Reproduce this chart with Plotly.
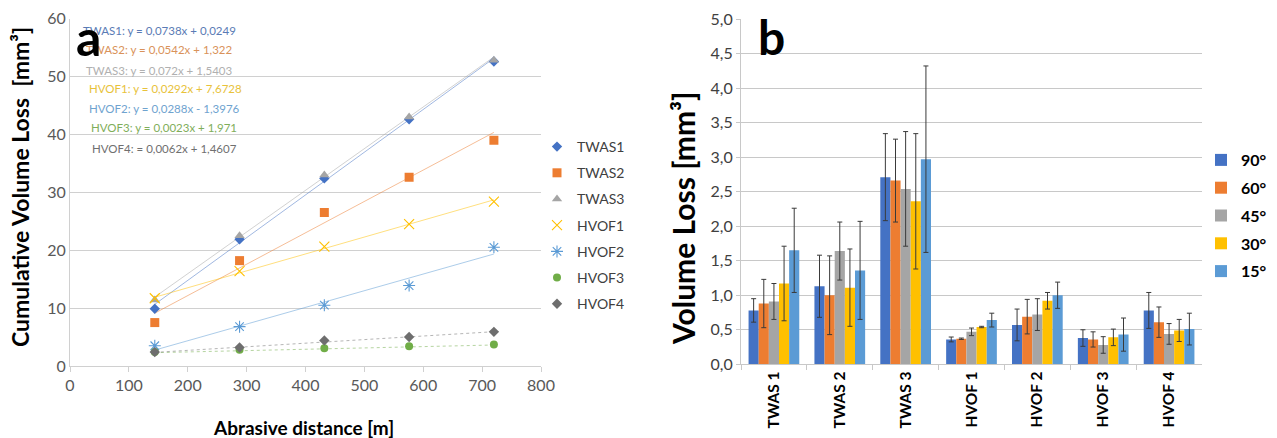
import plotly.graph_objects as go

W, H = 1277, 438


def px(x):
    return x / W


def py(y):
    return 1 - y / H


FONT = "Lato"

# ---------------- Panel a data ----------------
distance = [144, 288, 432, 576, 720]
twas1 = [9.9, 21.9, 32.4, 42.6, 52.6]
twas2 = [7.5, 18.2, 26.5, 32.6, 39.0]
twas3 = [11.4, 22.5, 33.0, 43.0, 52.8]
hvof1 = [11.7, 16.4, 20.6, 24.5, 28.4]
hvof2 = [3.5, 6.8, 10.5, 13.9, 20.5]
hvof3 = [2.4, 2.8, 3.05, 3.4, 3.7]
hvof4 = [2.4, 3.2, 4.4, 5.0, 5.9]

series_names = ["TWAS1", "TWAS2", "TWAS3", "HVOF1", "HVOF2", "HVOF3", "HVOF4"]
series_vals = [twas1, twas2, twas3, hvof1, hvof2, hvof3, hvof4]
slopes = [0.0738, 0.0542, 0.072, 0.0292, 0.0288, 0.0023, 0.0062]
intercepts = [0.0249, 1.322, 1.5403, 7.6728, -1.3976, 1.971, 1.4607]
eq_labels = [
    "TWAS1: y = 0,0738x + 0,0249",
    "TWAS2: y = 0,0542x + 1,322",
    "TWAS3: y = 0,072x + 1,5403",
    "HVOF1: y = 0,0292x + 7,6728",
    "HVOF2: y = 0,0288x - 1,3976",
    "HVOF3: y = 0,0023x + 1,971",
    "HVOF4: = 0,0062x + 1,4607",
]
a_xticks = [0, 100, 200, 300, 400, 500, 600, 700, 800]
a_yticks = [0, 10, 20, 30, 40, 50, 60]

# ---------------- Panel b data ----------------
materials = ["TWAS 1", "TWAS 2", "TWAS 3", "HVOF 1", "HVOF 2", "HVOF 3", "HVOF 4"]
angles = ["90°", "60°", "45°", "30°", "15°"]
v90 = [0.78, 1.13, 2.71, 0.36, 0.57, 0.38, 0.78]
v60 = [0.88, 1.00, 2.66, 0.37, 0.69, 0.36, 0.61]
v45 = [0.91, 1.64, 2.54, 0.47, 0.72, 0.28, 0.44]
v30 = [1.17, 1.11, 2.36, 0.54, 0.92, 0.39, 0.49]
v15 = [1.65, 1.36, 2.97, 0.64, 1.00, 0.43, 0.51]
e90 = [0.17, 0.45, 0.63, 0.035, 0.23, 0.12, 0.26]
e60 = [0.35, 0.57, 0.60, 0.01, 0.25, 0.11, 0.22]
e45 = [0.26, 0.42, 0.83, 0.055, 0.23, 0.12, 0.15]
e30 = [0.54, 0.56, 0.98, 0.01, 0.12, 0.12, 0.16]
e15 = [0.61, 0.71, 1.35, 0.10, 0.19, 0.24, 0.23]
b_yticks = [0, 0.5, 1, 1.5, 2, 2.5, 3, 3.5, 4, 4.5, 5]

# ---------------- styles ----------------
s_colors = ["#4472C4", "#ED7D31", "#A5A5A5", "#FFC000", "#5B9BD5", "#70AD47", "#6E6E6E"]
s_eqcolors = ["#5A7BB5", "#D9925A", "#B0B0B0", "#E8C23A", "#6FA3CF", "#7FAE5A", "#707070"]
s_symbols = ["diamond", "square", "triangle-up", "x-thin-open", "asterisk-open", "circle", "diamond"]
s_sizes = [8, 9, 9, 10, 10, 8, 8]
s_dash = ["solid", "solid", "solid", "solid", "solid", "dot", "dot"]
b_colors = ["#4472C4", "#ED7D31", "#A5A5A5", "#FFC000", "#5B9BD5"]

fig = go.Figure()

# trendlines (from printed fit coefficients)
for name, vals, m, c, col, dash in zip(series_names, series_vals, slopes, intercepts, s_colors, s_dash):
    xs = [min(distance), max(distance)]
    ys = [m * x + c for x in xs]
    fig.add_trace(go.Scatter(
        x=xs, y=ys, mode="lines", showlegend=False, hoverinfo="skip",
        line=dict(color=col, width=1, dash=dash), opacity=0.5,
        xaxis="x", yaxis="y",
    ))

for i, (name, vals) in enumerate(zip(series_names, series_vals)):
    sym = s_symbols[i]
    marker = dict(symbol=sym, size=s_sizes[i], color=s_colors[i])
    if sym.endswith("-open"):
        marker["line"] = dict(color=s_colors[i], width=1.1)
    fig.add_trace(go.Scatter(
        x=distance, y=vals, mode="markers", name=name, marker=marker,
        xaxis="x", yaxis="y", legend="legend", legendgroup=name,
    ))

bar_vals = [v90, v60, v45, v30, v15]
bar_errs = [e90, e60, e45, e30, e15]
for ang, vals, errs, col in zip(angles, bar_vals, bar_errs, b_colors):
    fig.add_trace(go.Bar(
        x=materials, y=vals, name=ang, marker=dict(color=col, line=dict(width=0)),
        error_y=dict(type="data", array=errs, visible=True, color="#3A3A3A",
                     thickness=1, width=2.5),
        xaxis="x2", yaxis="y2", legend="legend2", legendgroup="b" + ang,
    ))

annotations = []
eq_y = [30, 50, 70, 89, 108, 127, 148]
eq_x = [82, 85, 85, 88, 88, 90, 91]
for txt, col, yy, xx in zip(eq_labels, s_eqcolors, eq_y, eq_x):
    annotations.append(dict(
        text=txt, x=px(xx), y=py(yy), xref="paper", yref="paper",
        xanchor="left", yanchor="middle", showarrow=False, borderpad=0,
        font=dict(family=FONT, size=11.5, color=col),
    ))
annotations.append(dict(text="<b>a</b>", x=px(75), y=py(37), xref="paper", yref="paper",
                        xanchor="left", yanchor="middle", showarrow=False, borderpad=0,
                        font=dict(family=FONT, size=50, color="black")))
annotations.append(dict(text="<b>b</b>", x=px(757), y=py(36), xref="paper", yref="paper",
                        xanchor="left", yanchor="middle", showarrow=False, borderpad=0,
                        font=dict(family=FONT, size=48, color="black")))
annotations.append(dict(text="<b>Cumulative Volume Loss  [mm³]</b>", x=px(20), y=py(187),
                        xref="paper", yref="paper", textangle=-90, showarrow=False,
                        xanchor="center", yanchor="middle",
                        font=dict(family=FONT, size=23, color="black")))
annotations.append(dict(text="<b>Abrasive distance [m]</b>", x=px(303), y=py(427),
                        xref="paper", yref="paper", showarrow=False,
                        xanchor="center", yanchor="middle",
                        font=dict(family=FONT, size=19, color="black")))
annotations.append(dict(text="<b>Volume Loss [mm³]</b>", x=px(683), y=py(218),
                        xref="paper", yref="paper", textangle=-90, showarrow=False,
                        xanchor="center", yanchor="middle",
                        font=dict(family=FONT, size=30, color="black")))

tickfont = dict(family=FONT, size=16, color="#595959")

fig.update_layout(
    width=W, height=H,
    margin=dict(l=0, r=0, t=0, b=0, autoexpand=False),
    paper_bgcolor="white", plot_bgcolor="white",
    separators=",.",
    font=dict(family=FONT),
    barmode="group", bargap=0.23, bargroupgap=0,
    annotations=annotations,
    xaxis=dict(domain=[px(70), px(541)], range=[0, 800], tickvals=a_xticks,
               showgrid=False, zeroline=False, showline=True, linecolor="#D0D0D0",
               ticks="outside", ticklen=5, tickcolor="#D0D0D0", tickfont=tickfont,
               anchor="y", automargin=False),
    yaxis=dict(domain=[py(366), py(18.6)], range=[0, 60], tickvals=a_yticks,
               showgrid=True, gridcolor="#D0D0D0", gridwidth=1, zeroline=False,
               showline=True, linecolor="#D0D0D0", ticks="", tickfont=tickfont,
               anchor="x", automargin=False),
    xaxis2=dict(domain=[px(741), px(1202)], type="category", tickangle=-90,
                showgrid=False, zeroline=False, showline=True, linecolor="#C8C8C8",
                ticks="outside", tickson="boundaries", ticklen=5, tickcolor="#C8C8C8",
                tickfont=dict(family=FONT, size=15.5, color="black", weight="bold"),
                anchor="y2", automargin=False),
    yaxis2=dict(domain=[py(364.3), py(19)], range=[0, 5], tickvals=b_yticks,
                tickformat=".1f", showgrid=True, gridcolor="#C8C8C8", gridwidth=1,
                zeroline=False, showline=True, linecolor="#C8C8C8", ticks="outside",
                ticklen=4, tickcolor="#C8C8C8",
                tickfont=dict(family=FONT, size=16, color="#404040"), anchor="x2",
                automargin=False),
    legend=dict(x=px(537), y=py(131), xanchor="left", yanchor="top",
                bgcolor="rgba(0,0,0,0)", tracegroupgap=5,
                font=dict(family=FONT, size=14, color="#404040"), itemwidth=30),
    legend2=dict(x=px(1201), y=py(143), xanchor="left", yanchor="top",
                 bgcolor="rgba(0,0,0,0)", tracegroupgap=4,
                 font=dict(family=FONT, size=16, color="black", weight="bold"),
                 itemwidth=30),
)

fig.write_html("out.html", config={"displayModeBar": False},
               post_script="document.body.style.margin='0px';")
